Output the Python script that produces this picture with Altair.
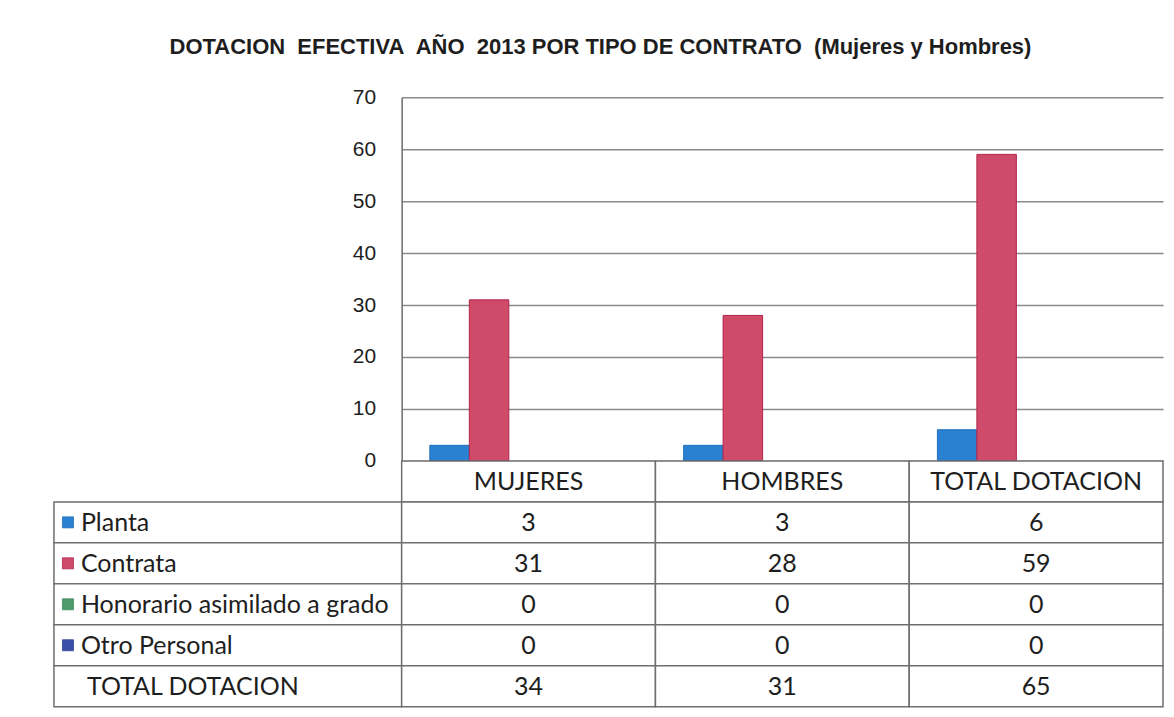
import altair as alt
import pandas as pd

# ---- data ----
categories = ["MUJERES", "HOMBRES", "TOTAL DOTACION"]
series = ["Planta", "Contrata", "Honorario asimilado a grado", "Otro Personal"]
planta = [3, 3, 6]
contrata = [31, 28, 59]
honorario = [0, 0, 0]
otro = [0, 0, 0]
total_label = "TOTAL DOTACION"
totals = [34, 31, 65]
y_ticks = [0, 10, 20, 30, 40, 50, 60, 70]
title_text = "DOTACION\u00a0 EFECTIVA\u00a0 AÑO\u00a0 2013 POR TIPO DE CONTRATO\u00a0 (Mujeres y Hombres)"

fill_colors = ["#2B81D1", "#D04B69", "#4F9A6C", "#3A50A8"]
stroke_colors = ["#1F6FBC", "#B3234A", "#3F8A5C", "#2D4096"]

values_by_series = [planta, contrata, honorario, otro]

# ---- bar data ----
bar_rows = []
for s, vals in zip(series, values_by_series):
    for c, v in zip(categories, vals):
        bar_rows.append({"category": c, "series": s, "value": v})
bar_df = pd.DataFrame(bar_rows)
offset_domain = series + [total_label]  # Excel reserves a slot for the total row

GRID = "#8a8a8a"
LINE = "#6e6e6e"
TXT = "#1e1e1e"

bars = alt.Chart(bar_df).transform_filter(alt.datum.value > 0).mark_bar(strokeWidth=1).encode(
    x=alt.X("category:N", sort=categories,
            scale=alt.Scale(domain=categories, paddingInner=0.222, paddingOuter=0.111),
            axis=None),
    xOffset=alt.XOffset("series:N",
                        scale=alt.Scale(domain=offset_domain, paddingInner=0, paddingOuter=0)),
    y=alt.Y("value:Q",
            scale=alt.Scale(domain=[0, 70], nice=False, zero=True),
            axis=alt.Axis(values=y_ticks, title=None, grid=True, gridColor=GRID,
                          gridWidth=1.5, domainColor=LINE, domainWidth=1.5,
                          ticks=False, labelPadding=26, labelFontSize=21,
                          labelFont="Liberation Sans", labelColor=TXT,
                          minExtent=348, maxExtent=348)),
    color=alt.Color("series:N", scale=alt.Scale(domain=series, range=fill_colors), legend=None),
    stroke=alt.Stroke("series:N", scale=alt.Scale(domain=series, range=stroke_colors), legend=None),
).properties(width=762, height=364)

# ---- table data ----
label_units = 348 / 254.0
row_keys = ["hdr", "r_planta", "r_contrata", "r_honorario", "r_otro", "r_total"]
row_names = series + [total_label]

cells = []
for i, c in enumerate(categories):
    cells.append({"row": "hdr", "x0": i, "x1": i + 1, "xc": i + 0.5, "text": c, "kind": "val"})
row_values = values_by_series + [totals]
for rk, rn, vals in zip(row_keys[1:], row_names, row_values):
    cells.append({"row": rk, "x0": -label_units, "x1": 0, "xc": -label_units,
                  "text": rn, "kind": "label"})
    for i, v in enumerate(vals):
        cells.append({"row": rk, "x0": i, "x1": i + 1, "xc": i + 0.5, "text": str(v), "kind": "val"})
cell_df = pd.DataFrame(cells)

keys_df = pd.DataFrame({"row": row_keys[1:5], "series": series, "x0": [-label_units] * 4})

xscale = alt.Scale(domain=[0, 3], nice=False, zero=False)
yscale = alt.Scale(domain=row_keys, paddingInner=0, paddingOuter=0)

FS = 25
base = alt.Chart(cell_df)
rects = base.mark_rect(fill="white", stroke=LINE, strokeWidth=1.5).encode(
    x=alt.X("x0:Q", scale=xscale, axis=None),
    x2="x1:Q",
    y=alt.Y("row:N", scale=yscale, axis=None),
)
val_text = base.transform_filter(alt.datum.kind == "val").mark_text(
    font="Lato", fontSize=FS, color=TXT, align="center", baseline="middle", dy=1
).encode(
    x=alt.X("xc:Q", scale=xscale, axis=None),
    y=alt.Y("row:N", scale=yscale, axis=None),
    text="text:N",
)
lab_text = base.transform_filter(
    (alt.datum.kind == "label") & (alt.datum.row != "r_total")
).mark_text(
    font="Lato", fontSize=FS, color=TXT, align="left", baseline="middle", dx=27, dy=1
).encode(
    x=alt.X("xc:Q", scale=xscale, axis=None),
    y=alt.Y("row:N", scale=yscale, axis=None),
    text="text:N",
)
tot_text = base.transform_filter(
    (alt.datum.kind == "label") & (alt.datum.row == "r_total")
).mark_text(
    font="Lato", fontSize=FS, color=TXT, align="left", baseline="middle", dx=33, dy=1
).encode(
    x=alt.X("xc:Q", scale=xscale, axis=None),
    y=alt.Y("row:N", scale=yscale, axis=None),
    text="text:N",
)
keys = alt.Chart(keys_df).mark_square(size=121, opacity=1, xOffset=14, strokeWidth=0.8).encode(
    x=alt.X("x0:Q", scale=xscale, axis=None),
    y=alt.Y("row:N", scale=yscale, axis=None),
    fill=alt.Fill("series:N", scale=alt.Scale(domain=series, range=fill_colors), legend=None),
    stroke=alt.Stroke("series:N", scale=alt.Scale(domain=series, range=stroke_colors), legend=None),
)

table = alt.layer(rects, val_text, lab_text, tot_text, keys).properties(width=762, height=246)

chart = alt.vconcat(bars, table, spacing=0, bounds="flush").resolve_scale(
    color="independent", stroke="independent", fill="independent"
).properties(
    title=alt.TitleParams(title_text, font="Liberation Sans", fontSize=22,
                          fontWeight="bold", color=TXT, anchor="middle", dx=-8, offset=27),
    padding={"left": 45, "top": 28, "right": 2, "bottom": 0},
).configure_view(stroke=None)

chart.save("out.html", embed_options={"renderer": "svg", "actions": False})
